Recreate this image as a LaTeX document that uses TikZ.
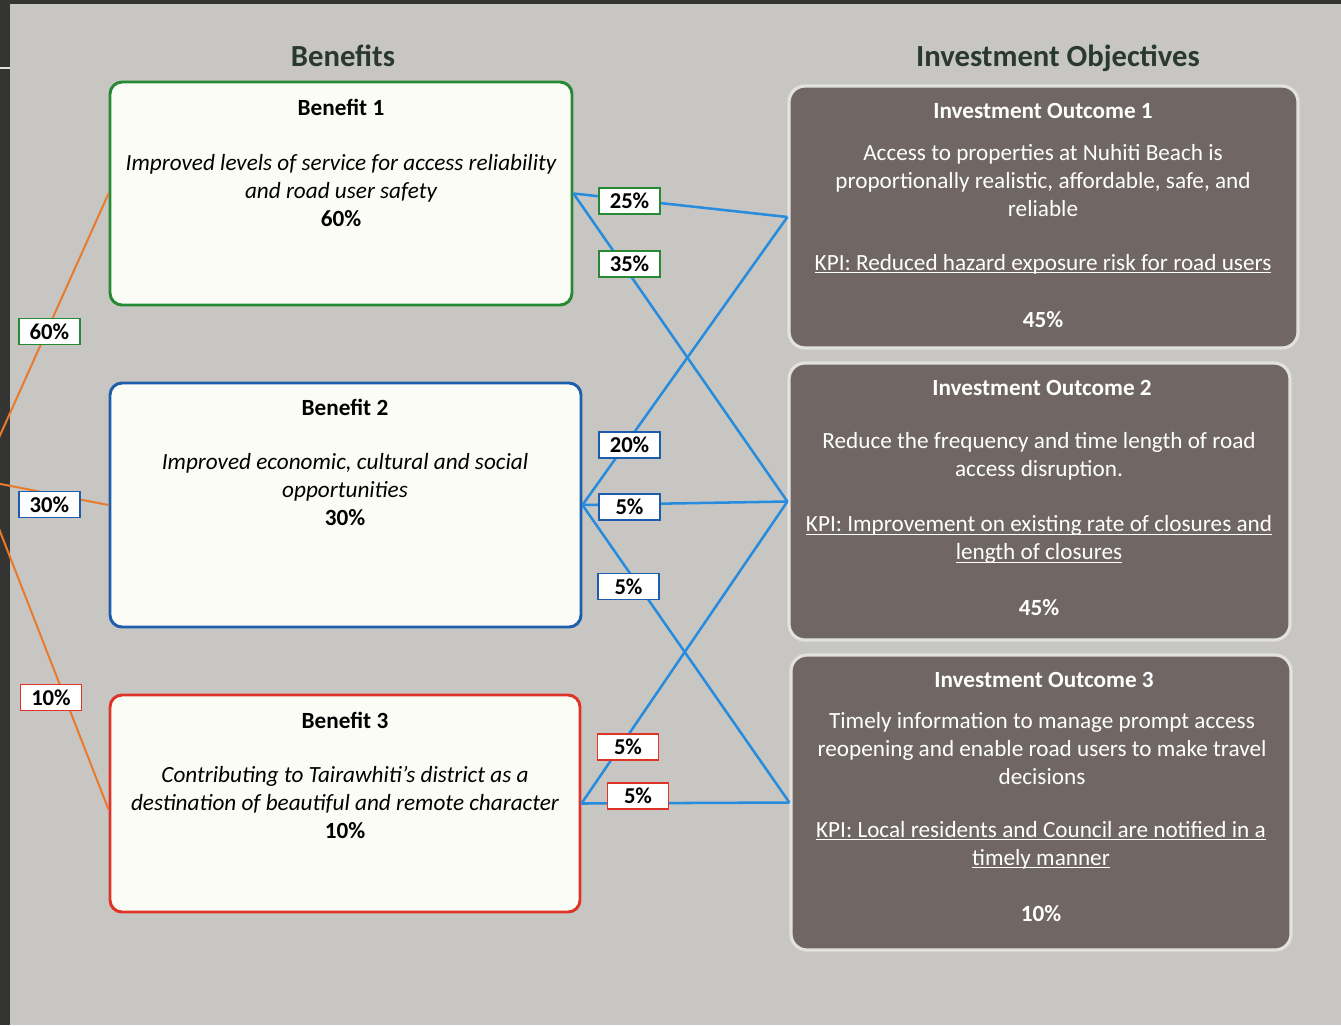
\documentclass[tikz,border=0pt]{standalone}
\usepackage{fontspec}
\setmainfont{Carlito}
\definecolor{paper}{RGB}{199,198,195}
\definecolor{edge}{RGB}{52,52,50}
\definecolor{boxwhite}{RGB}{252,252,247}
\definecolor{bgreen}{RGB}{38,138,52}
\definecolor{bblue}{RGB}{30,92,172}
\definecolor{bred}{RGB}{222,52,40}
\definecolor{outbrown}{RGB}{112,102,99}
\definecolor{rimgrey}{RGB}{225,225,222}
\definecolor{linkblue}{RGB}{40,140,222}
\definecolor{feedorange}{RGB}{232,122,44}
\definecolor{headdark}{RGB}{42,56,50}
\newcommand{\kpiul}[1]{\setbox0\hbox{#1}\rlap{\rule[-2.4pt]{\wd0}{0.8pt}}\box0}
\tikzset{every picture/.style={line width=0.75pt}}
\tikzset{
  benefit/.style={draw, line width=2.2pt, rounded corners=9pt, fill=boxwhite},
  outcome/.style={draw=rimgrey, line width=2.4pt, rounded corners=12pt, fill=outbrown},
  pct/.style={draw, line width=1.3pt, fill=white, minimum width=45.75pt, minimum height=19.5pt, inner sep=0pt, font=\fontsize{17}{19}\selectfont\bfseries},
  link/.style={draw=linkblue, line width=1.9pt},
  feed/.style={draw=feedorange, line width=1.5pt},
  head/.style={text=headdark, font=\fontsize{23}{26}\selectfont\bfseries},
  btitle/.style={font=\fontsize{17.4}{20}\selectfont\bfseries},
  btext/.style={align=center, font=\fontsize{17.4}{21}\selectfont\itshape},
  otext/.style={align=center, text=white, font=\fontsize{17.4}{21}\selectfont},
  otitle/.style={text=white, font=\fontsize{17.4}{20}\selectfont\bfseries},
}

\begin{document}
\begin{tikzpicture}[x=0.75pt,y=0.75pt,yscale=-1,xscale=1]
\useasboundingbox (0,0) rectangle (1341,1025);

%Background
\fill[paper] (0,0) rectangle (1341,1025);
\fill[edge] (0,0) rectangle (1341,4);
\fill[edge] (0,0) rectangle (10,1025);
\draw[rimgrey, line width=1pt] (0,68) -- (10,68);

%Headings
\node[head] (hben) at (343,56) {Benefits};
\node[head] (hinv) at (1058,58) {Investment Objectives};

%Benefit boxes
\node[benefit, draw=bgreen, minimum width=346.5pt, minimum height=167.25pt] (b1) at (341,193.5) {};
\node[benefit, draw=bblue, minimum width=353.25pt, minimum height=183pt] (b2) at (345.5,505) {};
\node[benefit, draw=bred, minimum width=352.5pt, minimum height=162.75pt] (b3) at (345,803.5) {};

%Outcome boxes
\node[outcome, minimum width=381.75pt, minimum height=196.5pt] (io1) at (1043.5,217) {};
\node[outcome, minimum width=375.75pt, minimum height=207.75pt] (io2) at (1039.5,501.5) {};
\node[outcome, minimum width=375pt, minimum height=221.25pt] (io3) at (1041,802.5) {};

%Benefit texts
\node[btitle] (b1t) at (341,107) {Benefit 1};
\node[btext] (b1x) at (341,190.5) {Improved levels of service for access reliability\\and road user safety\\\textbf{\upshape 60\%}};
\node[btitle] (b2t) at (345,407) {Benefit 2};
\node[btext] (b2x) at (345,489.5) {Improved economic, cultural and social\\opportunities\\\textbf{\upshape 30\%}};
\node[btitle] (b3t) at (345,720) {Benefit 3};
\node[btext] (b3x) at (345,802.5) {Contributing to Tairawhiti’s district as a\\destination of beautiful and remote character\\\textbf{\upshape 10\%}};

%Outcome texts
\node[otitle] (io1t) at (1043,111) {Investment Outcome 1};
\node[otext] (io1x) at (1043,180.5) {Access to properties at Nuhiti Beach is\\proportionally realistic, affordable, safe, and\\reliable};
\node[otext] (io1k) at (1043,264) {\kpiul{KPI: Reduced hazard exposure risk for road users}};
\node[otitle] (io1p) at (1043,320) {45\%};
\node[otitle] (io2t) at (1042,388) {Investment Outcome 2};
\node[otext] (io2x) at (1039,456.5) {Reduce the frequency and time length of road\\access disruption.};
\node[otext] (io2k) at (1039,539.5) {\kpiul{KPI: Improvement on existing rate of closures and}\\\kpiul{length of closures}};
\node[otitle] (io2p) at (1039,608) {45\%};
\node[otitle] (io3t) at (1044,680) {Investment Outcome 3};
\node[otext] (io3x) at (1042,748.5) {Timely information to manage prompt access\\reopening and enable road users to make travel\\decisions};
\node[otext] (io3k) at (1041,845) {\kpiul{KPI: Local residents and Council are notified in a}\\\kpiul{timely manner}};
\node[otitle] (io3p) at (1041,914) {10\%};

%Feeds into benefits
\begin{scope}
\clip (0,0) rectangle (1341,1025);
\coordinate (hub) at (-20,480);
\draw[feed] (hub) -- (b1.west);
\draw[feed] (hub) -- (b2.west);
\draw[feed] (hub) -- ([yshift=4.5pt]b3.west);
\end{scope}

%Links benefits to outcomes
\draw[link] (b1.east) -- (io1.west);
\draw[link] (b1.east) -- (io2.west);
\draw[link] (b2.east) -- (io1.west);
\draw[link] (b2.east) -- (io2.west);
\draw[link] (b2.east) -- (io3.west);
\draw[link] (b3.east) -- (io2.west);
\draw[link] (b3.east) -- (io3.west);

%Weights
\node[pct, draw=bgreen] (w60) at (49.5,331.5) {60\%};
\node[pct, draw=bblue] (w30) at (49.5,504.5) {30\%};
\node[pct, draw=bred] (w10) at (51,697.5) {10\%};
\node[pct, draw=bgreen] (w25) at (629.5,201) {25\%};
\node[pct, draw=bgreen] (w35) at (629.5,264) {35\%};
\node[pct, draw=bblue] (w20) at (629.5,445) {20\%};
\node[pct, draw=bblue] (w5a) at (629.5,507) {5\%};
\node[pct, draw=bblue] (w5b) at (628.5,586.5) {5\%};
\node[pct, draw=bred] (w5c) at (628,747) {5\%};
\node[pct, draw=bred] (w5d) at (638,796) {5\%};

\end{tikzpicture}
\end{document}
